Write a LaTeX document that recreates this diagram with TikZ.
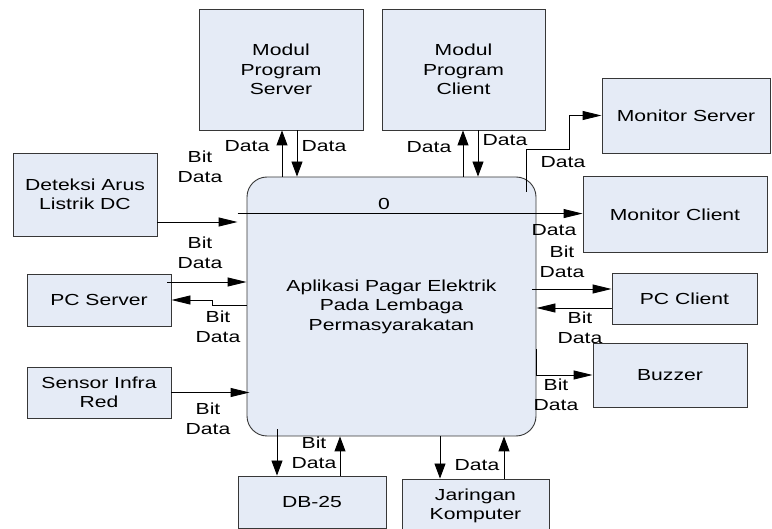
\documentclass[tikz,border=0pt]{standalone}
\usepackage{fontspec}
\setmainfont{Liberation Sans}[FakeStretch=1.32]
\usetikzlibrary{arrows.meta}
\definecolor{boxfill}{RGB}{229,235,246}
\definecolor{boxline}{RGB}{55,55,55}
\begin{document}
\begin{tikzpicture}[x=1pt,y=-1pt,
  box/.style={draw=boxline, fill=boxfill, line width=0.9pt, align=center,
    inner sep=0pt, font=\fontsize{16}{19.5}\selectfont},
  lbl/.style={align=center, inner sep=0pt, font=\fontsize{16}{20}\selectfont},
  flow/.style={line width=0.9pt, draw=black},
  av/.style={flow, -{Triangle[length=15pt,width=11pt]}},
  ah/.style={flow, -{Triangle[length=19pt,width=9pt]}},
]
\useasboundingbox (0,0) rectangle (772,529);

% central process
\node[box, rounded corners=20pt, minimum width=289pt, minimum height=259pt]
  (main) at (391.5,306.5) {Aplikasi Pagar Elektrik\\Pada Lembaga\\Permasyarakatan};

% external entities
\node[box, minimum width=164pt, minimum height=121pt] (mps) at (281,69.5) {Modul\\Program\\Server};
\node[box, minimum width=163pt, minimum height=121pt] (mpc) at (463.5,69.5) {Modul\\Program\\Client};
\node[box, minimum width=168pt, minimum height=75pt] (ms) at (686,115.5) {Monitor Server};
\node[box, minimum width=184pt, minimum height=76pt] (mc) at (675,214.5) {Monitor Client};
\node[box, minimum width=145pt, minimum height=51pt] (pcc) at (684.5,298.5) {PC Client};
\node[box, minimum width=154pt, minimum height=64pt] (buz) at (670,375) {Buzzer};
\node[box, minimum width=147pt, minimum height=54pt] (jk) at (475.5,506) {Jaringan\\Komputer};
\node[box, minimum width=148pt, minimum height=52pt] (db) at (312,502) {DB-25};
\node[box, minimum width=144pt, minimum height=51pt] (sir) at (99,392.5) {Sensor Infra\\Red};
\node[box, minimum width=144pt, minimum height=52pt] (pcs) at (99,300) {PC Server};
\node[box, minimum width=144pt, minimum height=83pt] (det) at (85,194.5) {Deteksi Arus\\Listrik DC};

% modul program server / client
\draw[av] ([xshift=-109.5pt]main.north) -- ([xshift=1pt]mps.south);
\draw[av] ([xshift=16pt]mps.south) -- ([xshift=-94.5pt]main.north);
\draw[av] ([xshift=71.5pt]main.north) -- ([xshift=-0.5pt]mpc.south);
\draw[av] ([xshift=14.5pt]mpc.south) -- ([xshift=86.5pt]main.north);

% monitors
\draw[ah] ([xshift=-10pt,yshift=-15pt]main.north east) -- ++(0,-42) -- ++(43,0) |- (ms.west);
\draw[ah] ([xshift=-9pt,yshift=-37pt]main.north west) coordinate (zline) -- (zline -| mc.west);

% left side inputs
\draw[ah] ([yshift=-27.5pt]det.east) coordinate (dA) -- (dA -| zline);
\draw[ah] ([xshift=-4pt,yshift=18pt]pcs.east) coordinate (pA) -- (pA -| main.west);
\draw[ah] ([yshift=1.5pt]main.west) -- ++(-34,0) |- (pcs.east);
\draw[ah] (sir.east) coordinate (sA) -- ([xshift=3pt]sA -| main.west);

% bottom
\draw[av] ([xshift=-114.5pt,yshift=7pt]main.south) -- ([xshift=-35pt]db.north);
\draw[av] ([xshift=28pt]db.north) -- ([xshift=-51.5pt]main.south);
\draw[av] ([xshift=48.5pt]main.south) -- ([xshift=-35.5pt]jk.north);
\draw[av] ([xshift=28.5pt]jk.north) -- ([xshift=112.5pt]main.south);

% right side
\draw[ah] ([xshift=-4pt,yshift=17.5pt]main.east) coordinate (cA) -- (cA -| pcc.west);
\draw[ah] ([yshift=-9.5pt]pcc.west) coordinate (cB) -- (cB -| main.east);
\draw[ah] ([yshift=-42.5pt]main.east) |- (buz.west);

% flow labels
\node[lbl] (l0) at (384,204) {0};
\node[lbl] (l1) at (247,146) {Data};
\node[lbl] (l2) at (324,146) {Data};
\node[lbl] (l3) at (429,147) {Data};
\node[lbl] (l4) at (505,140) {Data};
\node[lbl] (l5) at (563,162) {Data};
\node[lbl] (l6) at (554,230) {Data};
\node[lbl] (l7) at (562,262) {Bit\\Data};
\node[lbl] (l8) at (580,328) {Bit\\Data};
\node[lbl] (l9) at (556,395) {Bit\\Data};
\node[lbl] (l10) at (477,465) {Data};
\node[lbl] (l11) at (314,453) {Bit\\Data};
\node[lbl] (l12) at (208,419) {Bit\\Data};
\node[lbl] (l13) at (200,253) {Bit\\Data};
\node[lbl] (l14) at (218,327) {Bit\\Data};
\node[lbl] (l15) at (200,167) {Bit\\Data};
\end{tikzpicture}
\end{document}
